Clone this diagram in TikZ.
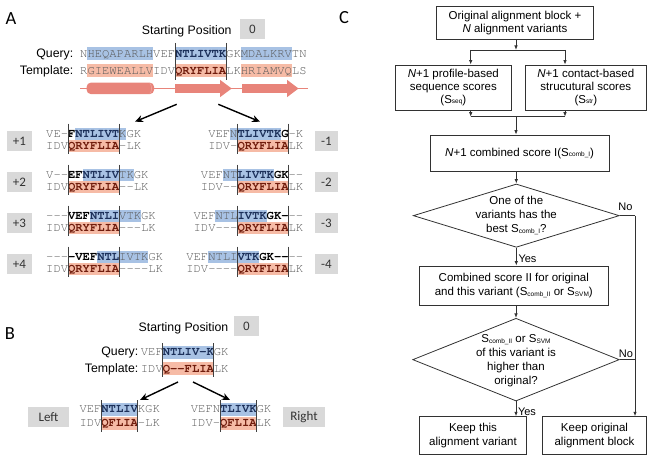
\documentclass[tikz,border=0pt]{standalone}
\usepackage{fontspec}
\setmainfont{Liberation Sans}
\newfontfamily\cour{TeX Gyre Cursor}
\newfontfamily\calib{Carlito}
\usetikzlibrary{arrows.meta,shapes.geometric}
\definecolor{bluebx}{RGB}{168,194,228}
\definecolor{salbx}{RGB}{246,187,166}
\definecolor{navy}{RGB}{28,48,90}
\definecolor{dred}{RGB}{112,28,12}
\definecolor{seqgray}{RGB}{88,88,88}
\definecolor{sscol}{RGB}{232,132,122}
\definecolor{lblgray}{RGB}{217,217,217}
\definecolor{fline}{RGB}{50,50,50}
\newcommand\seqcw{7.302}
\newcommand\seqG[1]{{\color{seqgray}#1}}
\newcommand\seqK[1]{{\bfseries\color{black}#1}}
\newcommand\seqN[1]{{\bfseries\color{navy}#1}}
\newcommand\seqR[1]{{\bfseries\color{dred}#1}}
\newcommand\fsub[1]{\raisebox{-0.6pt}{\fontsize{6.5}{7}\selectfont #1}}
% name, x0, p, Q, T, blue from, blue to, window from, window to
\newcommand\alnrow[9]{%
  \fill[bluebx] ({#2+#6*\seqcw},{#3-12}) rectangle ({#2+#7*\seqcw},{#3});
  \fill[salbx] ({#2+#8*\seqcw},{#3}) rectangle ({#2+#9*\seqcw},{#3+12});
  \node[seqtxt] (#1q) at ({#2},{#3-2.5}) {#4};
  \node[seqtxt] (#1t) at ({#2},{#3+9.5}) {#5};
  \draw[winln] ({#2+#8*\seqcw},{#3-16}) -- ({#2+#8*\seqcw},{#3+14});
  \draw[winln] ({#2+#9*\seqcw},{#3-16}) -- ({#2+#9*\seqcw},{#3+14});
}
\begin{document}
\begin{tikzpicture}[x=1pt,y=-1pt,
  seqtxt/.style={anchor=base west, inner sep=0pt, font=\cour\fontsize{12.17}{14}\selectfont},
  winln/.style={draw=black!75, line width=0.8pt},
  lblbox/.style={fill=lblgray, inner sep=0pt, minimum width=24pt, minimum height=20pt, font=\calib\fontsize{13}{14}\selectfont, text=black!80},
  sans/.style={inner sep=0pt, font=\fontsize{12.3}{14}\selectfont},
  panel/.style={inner sep=0pt, font=\calib\fontsize{18.5}{20}\selectfont},
  bigarrow/.style={-{Stealth[length=8pt,width=7pt]}, line width=1.4pt},
  fbox/.style={draw=fline, line width=0.8pt, inner sep=0pt, align=center, font=\fontsize{11.5}{12.8}\selectfont},
  fdia/.style={draw=fline, line width=0.8pt, shape=diamond, inner sep=0pt},
  ftxt/.style={inner sep=0pt, align=center, font=\fontsize{11.5}{14}\selectfont},
  farr/.style={draw=fline, line width=0.8pt, -{Latex[length=4.5pt,width=3.5pt]}},
  fln/.style={draw=fline, line width=0.8pt},
  yn/.style={inner sep=0pt, font=\fontsize{11}{12}\selectfont},
]
\useasboundingbox (0,0) rectangle (656,460);

% ---------------- Panel A ----------------
\node[panel] (pA) at (11,19) {A};
\node[sans, anchor=base] (spA) at (186.7,34.4) {Starting Position};
\node[lblbox, minimum width=25pt, font=\fontsize{12}{13}\selectfont] (zA) at (252.5,29.3) {0};

\node[sans, anchor=base east] (qlA) at (73.5,57.5) {Query:};
\node[sans, anchor=base east] (tlA) at (73.5,74.2) {Template:};
\foreach \a/\b in {1/10,13/20,22/29}{
  \fill[bluebx] ({80+\a*\seqcw},47.5) rectangle ({80+\b*\seqcw},60.5);
  \fill[salbx] ({80+\a*\seqcw},64.5) rectangle ({80+\b*\seqcw},77);
}
\node[seqtxt] (mqA) at (80,57.5) {\seqG{NHEQAPARLHVEF}\seqN{NTLIVTK}\seqG{GKMDALKRVTN}};
\node[seqtxt] (mtA) at (80,74.2) {\seqG{RGIEWEALLVIDV}\seqR{QRYFLIA}\seqG{LKHRIAMVQLS}};
\draw[winln] ({80+13*\seqcw},43) -- ({80+13*\seqcw},80);
\draw[winln] ({80+20*\seqcw},43) -- ({80+20*\seqcw},80);

% secondary structure
\draw[sscol, line width=1.6pt] (80,88.3) -- (308,88.3);
\fill[sscol, rounded corners=4pt] (86.7,82.7) rectangle (154,94);
\draw[sscol!75!white, line width=0.6pt] (149.8,83.3) .. controls (152.2,85.5) and (152.2,91.2) .. (149.8,93.4);
\fill[sscol] (175,84.2) -- (220,84.2) -- (220,79.8) -- (231.7,88.5) -- (220,97.2) -- (220,92.8) -- (175,92.8) -- cycle;
\fill[sscol] (242,84.2) -- (287,84.2) -- (287,79.8) -- (298.5,88.5) -- (287,97.2) -- (287,92.8) -- (242,92.8) -- cycle;

\coordinate (aLs) at (176.7,104.3);
\coordinate (aLe) at (135,121.7);
\coordinate (aRs) at (218.3,104.3);
\coordinate (aRe) at (260,121.7);
\draw[bigarrow] (aLs) -- (aLe);
\draw[bigarrow] (aRs) -- (aRe);

% left variants
\alnrow{p1}{46}{139.5}{\seqG{VE-}\seqK{F}\seqN{NTLIVT}\seqG{KGK}}{\seqG{IDV}\seqR{QRYFLIA}\seqG{-LK}}{4}{11}{3}{10}
\alnrow{p2}{46}{180.5}{\seqG{V--}\seqK{EF}\seqN{NTLIV}\seqG{TKGK}}{\seqG{IDV}\seqR{QRYFLIA}\seqG{--LK}}{5}{12}{3}{10}
\alnrow{p3}{46}{221.5}{\seqG{---}\seqK{VEF}\seqN{NTLI}\seqG{VTKGK}}{\seqG{IDV}\seqR{QRYFLIA}\seqG{---LK}}{6}{13}{3}{10}
\alnrow{p4}{46}{262.5}{\seqG{---}\seqK{-VEF}\seqN{NTL}\seqG{IVTKGK}}{\seqG{IDV}\seqR{QRYFLIA}\seqG{----LK}}{7}{14}{3}{10}
% right variants
\alnrow{m1}{237.3-4*\seqcw}{139.5}{\seqG{VEFN}\seqN{TLIVTK}\seqK{G}\seqG{-K}}{\seqG{IDV-}\seqR{QRYFLIA}\seqG{LK}}{3}{10}{4}{11}
\alnrow{m2}{237.3-5*\seqcw}{180.5}{\seqG{VEFNT}\seqN{LIVTK}\seqK{GK}\seqG{--}}{\seqG{IDV--}\seqR{QRYFLIA}\seqG{LK}}{3}{10}{5}{12}
\alnrow{m3}{237.3-6*\seqcw}{221.5}{\seqG{VEFNTL}\seqN{IVTK}\seqK{GK-}\seqG{--}}{\seqG{IDV---}\seqR{QRYFLIA}\seqG{LK}}{3}{10}{6}{13}
\alnrow{m4}{237.3-7*\seqcw}{262.5}{\seqG{VEFNTLI}\seqN{VTK}\seqK{GK--}\seqG{--}}{\seqG{IDV----}\seqR{QRYFLIA}\seqG{LK}}{3}{10}{7}{14}

\node[lblbox, minimum width=25pt] (lp1) at (19.5,141) {+1};
\node[lblbox, minimum width=25pt] (lp2) at (19.5,182) {+2};
\node[lblbox, minimum width=25pt] (lp3) at (19.5,223) {+3};
\node[lblbox, minimum width=25pt] (lp4) at (19.5,264) {+4};
\node[lblbox, minimum width=23pt] (lm1) at (326.5,141) {-1};
\node[lblbox, minimum width=23pt] (lm2) at (326.5,182) {-2};
\node[lblbox, minimum width=23pt] (lm3) at (326.5,223) {-3};
\node[lblbox, minimum width=23pt] (lm4) at (326.5,264) {-4};

% ---------------- Panel B ----------------
\node[panel] (pB) at (10,334) {B};
\node[sans, anchor=base] (spB) at (183.5,331.1) {Starting Position};
\node[lblbox, minimum width=25pt, font=\fontsize{12}{13}\selectfont] (zB) at (246.5,326) {0};
\node[sans, anchor=base east] (qlB) at (138.5,355.5) {Query:};
\node[sans, anchor=base east] (tlB) at (138.5,372) {Template:};
\fill[bluebx] ({140.7+3*\seqcw},345.5) rectangle ({140.7+10*\seqcw},358.5);
\fill[salbx] ({140.7+3*\seqcw},362) rectangle ({140.7+10*\seqcw},375);
\node[seqtxt] (mqB) at (140.7,355.5) {\seqG{VEF}\seqN{NTLIV-K}\seqG{GK}};
\node[seqtxt] (mtB) at (140.7,372) {\seqG{IDV}\seqR{Q--FLIA}\seqG{LK}};
\draw[winln] ({140.7+3*\seqcw},343) -- ({140.7+3*\seqcw},377);
\draw[winln] ({140.7+10*\seqcw},343) -- ({140.7+10*\seqcw},377);

\coordinate (bLs) at (178,382);
\coordinate (bLe) at (140,400);
\coordinate (bRs) at (193,382);
\coordinate (bRe) at (230,400);
\draw[bigarrow] (bLs) -- (bLe);
\draw[bigarrow] (bRs) -- (bRe);

% left
\fill[bluebx] ({79.3+3*\seqcw},403) rectangle ({79.3+8*\seqcw},415.5);
\fill[salbx] ({79.3+3*\seqcw},417) rectangle ({79.3+8*\seqcw},429.5);
\node[seqtxt] (blq) at (79.3,412.8) {\seqG{VEF}\seqN{NTLIV}\seqG{KGK}};
\node[seqtxt] (blt) at (79.3,426.8) {\seqG{IDV}\seqR{QFLIA}\seqG{-LK}};
\draw[winln] ({79.3+3*\seqcw},400) -- ({79.3+3*\seqcw},432);
\draw[winln] ({79.3+8*\seqcw},400) -- ({79.3+8*\seqcw},432);
% right
\fill[bluebx] ({190.7+4*\seqcw},403) rectangle ({190.7+9*\seqcw},415.5);
\fill[salbx] ({190.7+4*\seqcw},417) rectangle ({190.7+9*\seqcw},429.5);
\node[seqtxt] (brq) at (190.7,412.8) {\seqG{VEFN}\seqN{TLIVK}\seqG{GK}};
\node[seqtxt] (brt) at (190.7,426.8) {\seqG{IDV-}\seqR{QFLIA}\seqG{LK}};
\draw[winln] ({190.7+4*\seqcw},400) -- ({190.7+4*\seqcw},432);
\draw[winln] ({190.7+9*\seqcw},400) -- ({190.7+9*\seqcw},432);

\node[lblbox, minimum width=41pt] (lLeft) at (48.5,417) {Left};
\node[lblbox, minimum width=42pt] (lRight) at (304,417) {Right};

% ---------------- Panel C ----------------
\node[panel] (pC) at (344,18) {C};
\node[fbox, minimum width=156.6pt, minimum height=33.3pt] (b1) at (515,22.7) {Original alignment block +\\\textit{N} alignment variants};
\node[fbox, minimum width=116.7pt, minimum height=45pt] (b2l) at (453.35,87.5) {\textit{N}+1 profile-based\\sequence scores\\(S\fsub{seq})};
\node[fbox, minimum width=121.7pt, minimum height=45pt] (b2r) at (585.85,87.5) {\textit{N}+1 contact-based\\strucutural scores\\(S\fsub{str})};
\node[fbox, minimum width=179.3pt, minimum height=36.7pt] (b3) at (519.65,153.35) {\textit{N}+1 combined score I(S\fsub{comb\_I})};
\node[fdia, minimum width=206pt, minimum height=63.3pt] (d1) at (516.3,215.65) {};
\node[ftxt] (d1t) at (516.3,215.65) {One of the\\variants has the\\best S\fsub{comb\_I}?};
\node[fbox, font=\fontsize{11.5}{14.3}\selectfont, minimum width=189pt, minimum height=39pt] (b4) at (513.8,285.5) {Combined score II for original\\and this variant (S\fsub{comb\_II} or S\fsub{SVM})};
\node[fdia, minimum width=206.6pt, minimum height=82.7pt] (d2) at (516,359.65) {};
\node[ftxt] (d2t) at (516,361) {S\fsub{comb\_II} or S\fsub{SVM}\\of this variant is\\higher than\\original?};
\node[fbox, font=\fontsize{11.5}{14}\selectfont, minimum width=107.4pt, minimum height=37.3pt] (b5) at (473,435.35) {Keep this\\alignment variant};
\node[fbox, font=\fontsize{11.5}{14}\selectfont, minimum width=104.4pt, minimum height=37.3pt] (b6) at (594.5,435.35) {Keep original\\alignment block};

\coordinate (j1) at (516,50);
\coordinate (j1l) at (470.7,50);
\coordinate (j1r) at (565,50);
\coordinate (j2) at (516,116.7);
\coordinate (j2l) at (470.7,116.7);
\coordinate (j2r) at (565,116.7);
\coordinate (rc) at (635,215.65);
\coordinate (rc2) at (635,359.65);

\draw[farr] (b1.south -| j1) -- (j1);
\draw[fln] (j1l) -- (j1r);
\draw[farr] (j1l) -- (j1l |- b2l.north);
\draw[farr] (j1r) -- (j1r |- b2r.north);
\draw[farr] (j2l |- b2l.south) -- (j2l);
\draw[farr] (j2r |- b2r.south) -- (j2r);
\draw[fln] (j2l) -- (j2r);
\draw[farr] (j2) -- (j2 |- b3.north);
\draw[farr] (b3.south -| d1.north) -- (d1.north);
\draw[farr] (d1.south) -- (d1.south |- b4.north);
\draw[farr] (b4.south -| d2.north) -- (d2.north);
\draw[farr] (d2.south) -- (d2.south |- b5.north);
\draw[fln] (d1.east) -- (rc);
\draw[farr] (rc) -- (rc |- b6.north);
\draw[fln] (d2.east) -- (rc2);

\node[yn] (yes1) at (527.5,258.3) {Yes};
\node[yn] (yes2) at (527,411.7) {Yes};
\node[yn] (no1) at (625.5,206.7) {No};
\node[yn] (no2) at (626,353.3) {No};
\end{tikzpicture}
\end{document}
